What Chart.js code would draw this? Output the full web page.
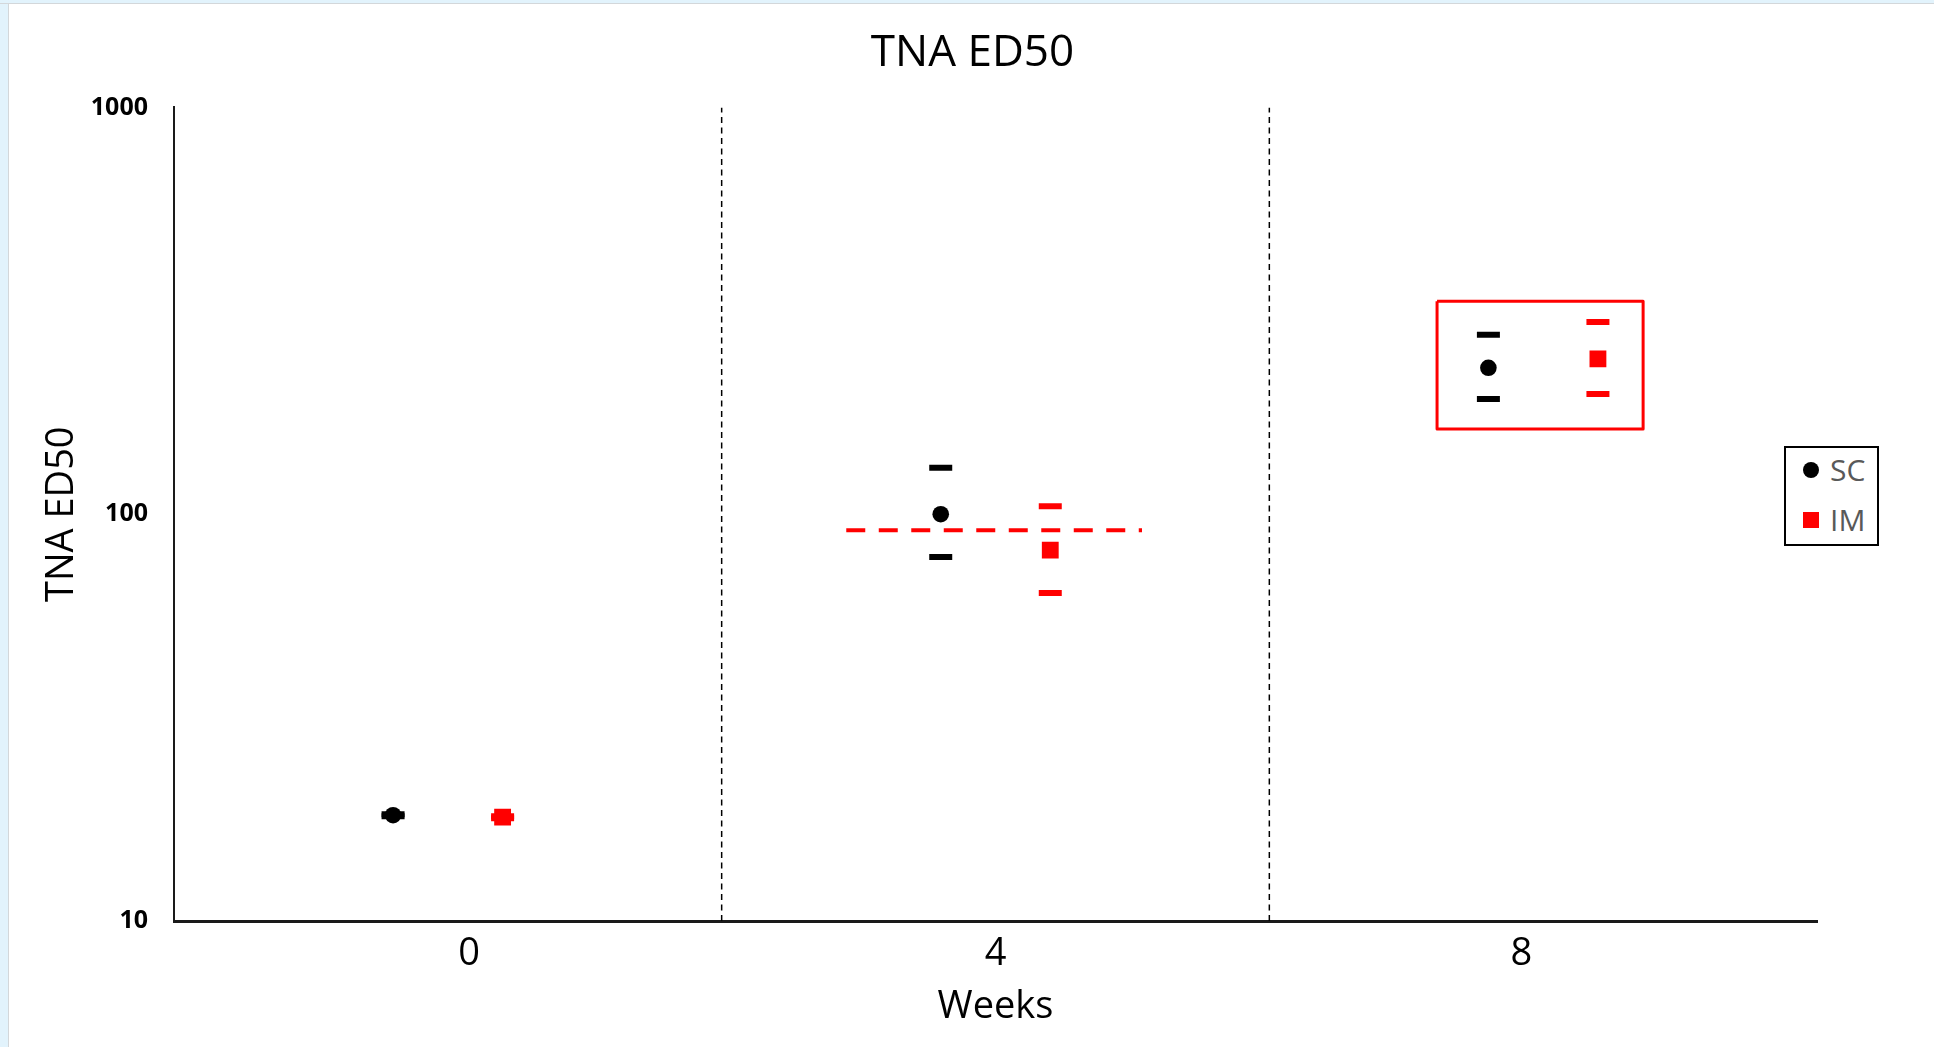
<!DOCTYPE html>
<html>
<head>
<meta charset="utf-8">
<title>TNA ED50</title>
<script src="https://cdn.jsdelivr.net/npm/chart.js@4.4.1/dist/chart.umd.min.js"></script>
<style>
  html, body { margin: 0; padding: 0; background: #fff; width: 1934px; height: 1047px; overflow: hidden; }
  #wrap { position: relative; width: 1934px; height: 1047px; }
  #chart { position: absolute; left: 0; top: 0; }
  .frame-left { position: absolute; left: 0; top: 0; width: 8px; height: 1047px; background: #E2F3FC; border-right: 1px solid #D3D7DA; }
  .frame-top { position: absolute; left: 0; top: 0; width: 1934px; height: 3px; background: #E2F3FC; border-bottom: 1px solid #D3D7DA; }
  #legend { position: absolute; left: 1784px; top: 446px; width: 91px; height: 96px; border: 2px solid #000; background: #fff;
            font-family: 'Open Sans', sans-serif; }
  .lg-row { position: absolute; left: 0; width: 91px; height: 40px; }
  .lg-mark { position: absolute; left: 17px; top: 12px; width: 16px; height: 16px; }
  .lg-text { position: absolute; left: 44px; top: 0; line-height: 40px; font-size: 30px; color: #595959; }
</style>
</head>
<body>
<div id="wrap">
  <canvas id="chart" width="1934" height="1047"></canvas>
  <div class="frame-left"></div>
  <div class="frame-top"></div>
  <div id="legend"></div>
</div>
<script>
// ---- data ----
const weeks  = ['0', '4', '8'];
const scMean = [18.2, 100, 229];
const scLow  = [18.1, 78.5, 192];
const scHigh = [18.3, 130, 276];
const imMean = [18.0, 81.6, 241];
const imLow  = [17.9, 64, 197.5];
const imHigh = [18.1, 104.6, 297];
const yTicks = [10, 100, 1000];

// reference line across week 4 and highlight box around week 8
const refLineX = [4.91, 7.07];
const refLineY = 91.3;
const boxX = [9.225, 10.73];
const boxY = [162, 334];

// x layout: groups centred at 2, 6, 10 on a 0..12 axis, dividers at 4 and 8
const groupX = [2, 6, 10];
const dividerX = [4, 8];
const weekTickX = [2.155, 6.0, 9.84];
const DODGE = 0.4;

const FONT = "'Open Sans', sans-serif";
const BLACK = '#000000';
const RED = '#FF0000';

Chart.defaults.font.family = FONT;

function pts(offset, values) {
  return groupX.map((x, i) => ({ x: x + offset, y: values[i] }));
}

function capSet(label, color, offset, lo, hi) {
  return {
    label, data: pts(offset, lo).concat(pts(offset, hi)),
    showLine: false, pointStyle: 'line', pointRadius: 11.5, pointHoverRadius: 11.5,
    pointBorderWidth: 6, pointBorderColor: color, pointBackgroundColor: color
  };
}

function lineSet(label, data, color, width, dash) {
  return {
    label, data, showLine: true, pointRadius: 0, pointHoverRadius: 0,
    borderColor: color, borderWidth: width, borderDash: dash || [],
    borderJoinStyle: 'round', tension: 0, fill: false
  };
}

const datasets = [
  { label: 'SC', data: pts(-DODGE, scMean), showLine: false, pointStyle: 'circle',
    pointRadius: 8.3, pointHoverRadius: 8.3, pointBorderWidth: 0, pointBackgroundColor: BLACK, pointBorderColor: BLACK },
  { label: 'IM', data: pts(DODGE, imMean), showLine: false, pointStyle: 'rect',
    pointRadius: 11.9, pointHoverRadius: 11.9, pointBorderWidth: 0, pointBackgroundColor: RED, pointBorderColor: RED },
  capSet('SC range', BLACK, -DODGE, scLow, scHigh),
  capSet('IM range', RED, DODGE, imLow, imHigh),
  lineSet('ref', refLineX.map(x => ({ x, y: refLineY })), RED, 4, [19, 13.5]),
  lineSet('box', [
    { x: boxX[0], y: boxY[1] }, { x: boxX[1], y: boxY[1] },
    { x: boxX[1], y: boxY[0] }, { x: boxX[0], y: boxY[0] }, { x: boxX[0], y: boxY[1] }
  ], RED, 3),
  ...dividerX.map(x => lineSet('divider', [{ x, y: yTicks[0] }, { x, y: yTicks[2] }], BLACK, 1.5, [6, 4.5]))
];

new Chart(document.getElementById('chart'), {
  type: 'scatter',
  data: { datasets },
  options: {
    responsive: false, animation: false, events: [],
    layout: { padding: { left: 11, right: 0, top: 0, bottom: 0 } },
    plugins: {
      legend: { display: false },
      tooltip: { enabled: false },
      title: {
        display: true, text: 'TNA ED50', color: BLACK,
        font: { family: FONT, size: 44, weight: 'normal' },
        padding: { top: 26.6, bottom: 28 }
      }
    },
    scales: {
      x: {
        type: 'linear', min: 0, max: 12,
        afterBuildTicks: s => { s.ticks = weekTickX.map(v => ({ value: v })); },
        afterFit: s => { s.height = 126; },
        grid: { display: false, drawTicks: false },
        border: { display: true, color: '#1a1a1a', width: 3 },
        ticks: { autoSkip: false, maxRotation: 0, padding: 10.5, color: BLACK,
                 font: { family: FONT, size: 38 }, callback: (v, i) => weeks[i] },
        title: { display: true, text: 'Weeks', color: BLACK,
                 font: { family: FONT, size: 38 }, padding: { top: 0, bottom: 17 } }
      },
      y: {
        type: 'logarithmic', min: 10, max: 1000,
        afterBuildTicks: s => { s.ticks = yTicks.map(v => ({ value: v, major: true })); },
        afterFit: s => { s.width = 163; },
        grid: { display: false, drawTicks: false },
        border: { display: true, color: '#1a1a1a', width: 2 },
        ticks: { padding: 26, color: BLACK, font: { family: FONT, size: 25, weight: 'bold' },
                 callback: v => String(v) },
        title: { display: true, text: 'TNA ED50', color: BLACK,
                 font: { family: FONT, size: 38 }, padding: { top: 28, bottom: 0 } }
      },
      // empty right-hand axis that only reserves the space where the legend sits
      yRight: {
        position: 'right', display: true,
        afterFit: s => { s.width = 117; },
        grid: { display: false, drawTicks: false },
        border: { display: false },
        ticks: { display: false }
      }
    }
  }
});

// legend
const legendItems = [
  { label: 'SC', color: BLACK, round: true },
  { label: 'IM', color: RED, round: false }
];
const lg = document.getElementById('legend');
lg.innerHTML = legendItems.map((d, i) => `
  <div class="lg-row" style="top:${2 + i * 50}px">
    <span class="lg-mark" style="background:${d.color};border-radius:${d.round ? '50%' : '0'}"></span>
    <span class="lg-text">${d.label}</span>
  </div>`).join('');
</script>
</body>
</html>
